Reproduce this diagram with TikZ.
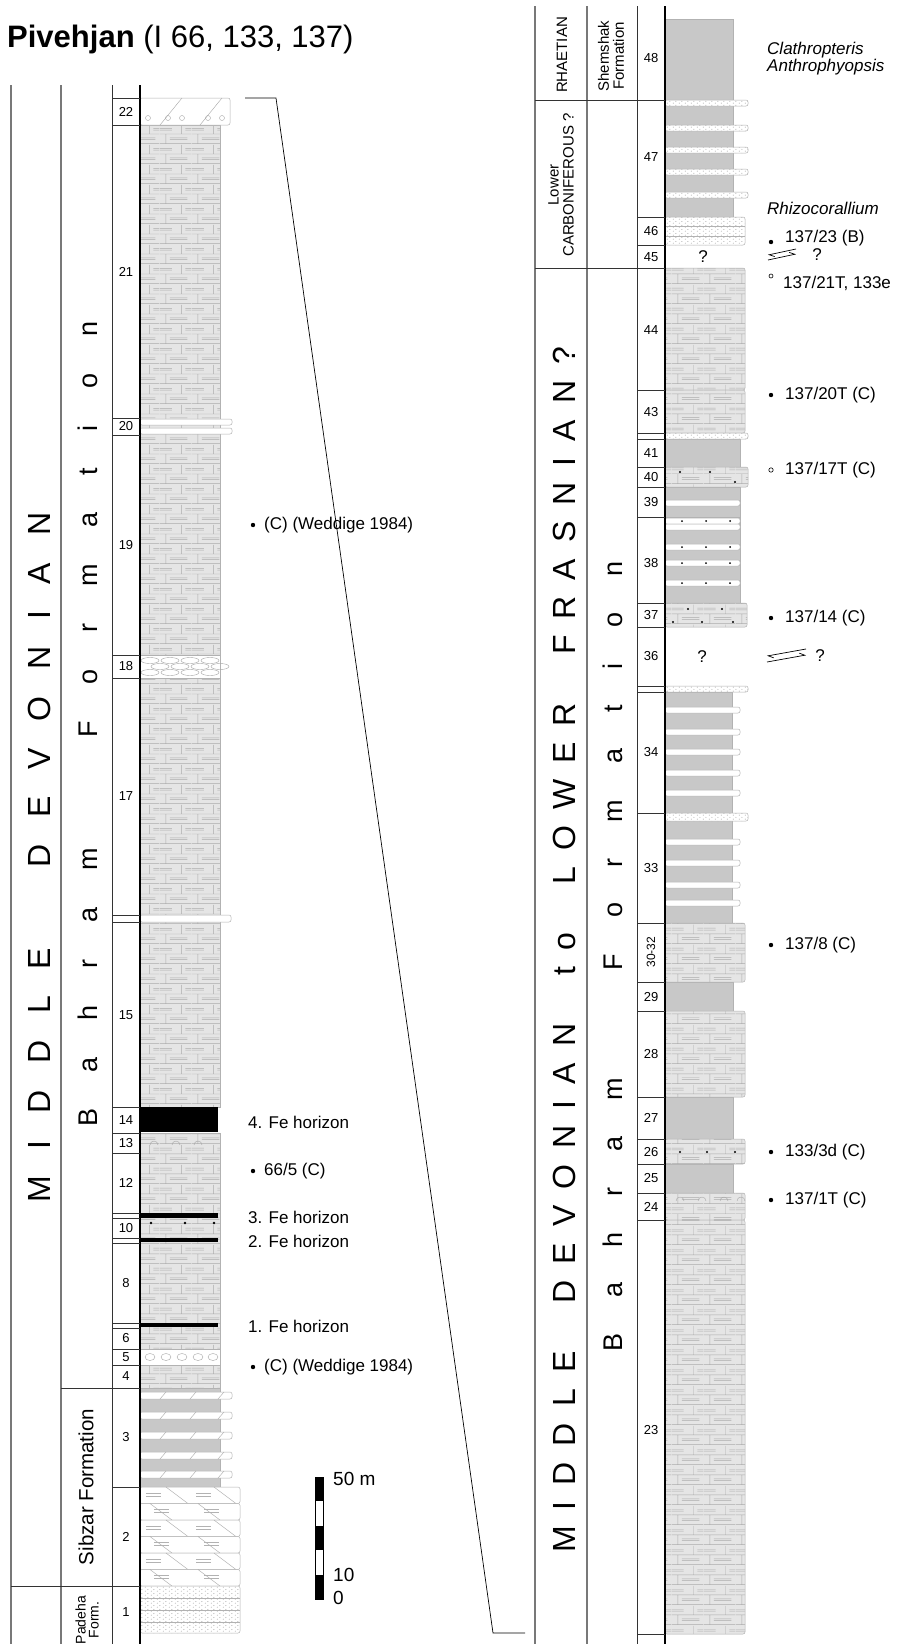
\documentclass[tikz,border=0pt]{standalone}
\usepackage{fontspec}
\setmainfont{Liberation Sans}
\usetikzlibrary{patterns,arrows.meta}
\definecolor{shalegray}{RGB}{200,200,200}
\definecolor{linegray}{RGB}{120,120,120}

\pgfdeclarepatternformonly{limestone}{\pgfpointorigin}{\pgfqpoint{32pt}{20pt}}{\pgfqpoint{32pt}{20pt}}{%
  \pgfsetlinewidth{0.5pt}%
  \pgfpathmoveto{\pgfqpoint{0pt}{0.5pt}}\pgfpathlineto{\pgfqpoint{32pt}{0.5pt}}%
  \pgfpathmoveto{\pgfqpoint{0pt}{10.5pt}}\pgfpathlineto{\pgfqpoint{32pt}{10.5pt}}%
  \pgfpathmoveto{\pgfqpoint{6pt}{0.5pt}}\pgfpathlineto{\pgfqpoint{6pt}{10.5pt}}%
  \pgfpathmoveto{\pgfqpoint{22pt}{10.5pt}}\pgfpathlineto{\pgfqpoint{22pt}{20pt}}%
  \pgfpathmoveto{\pgfqpoint{10pt}{4.5pt}}\pgfpathlineto{\pgfqpoint{28pt}{4.5pt}}%
  \pgfpathmoveto{\pgfqpoint{10pt}{6.5pt}}\pgfpathlineto{\pgfqpoint{28pt}{6.5pt}}%
  \pgfpathmoveto{\pgfqpoint{0pt}{14.5pt}}\pgfpathlineto{\pgfqpoint{12pt}{14.5pt}}%
  \pgfpathmoveto{\pgfqpoint{0pt}{16.5pt}}\pgfpathlineto{\pgfqpoint{12pt}{16.5pt}}%
  \pgfpathmoveto{\pgfqpoint{26pt}{14.5pt}}\pgfpathlineto{\pgfqpoint{32pt}{14.5pt}}%
  \pgfpathmoveto{\pgfqpoint{26pt}{16.5pt}}\pgfpathlineto{\pgfqpoint{32pt}{16.5pt}}%
  \pgfusepath{stroke}}

\pgfdeclarepatternformonly{sand}{\pgfpointorigin}{\pgfqpoint{6pt}{4pt}}{\pgfqpoint{6pt}{4pt}}{%
  \pgfpathcircle{\pgfqpoint{1.5pt}{1pt}}{0.55pt}%
  \pgfpathcircle{\pgfqpoint{4.5pt}{3pt}}{0.55pt}%
  \pgfusepath{fill}}

\begin{document}
\begin{tikzpicture}[x=1pt, y=-1pt, >=Stealth,
    frame/.style={line width=0.9pt, black!80},
    rule/.style={line width=1.4pt, linegray},
    lime/.style={preaction={fill=gray!20}, pattern=limestone, pattern color=gray!65, draw=gray!60, line width=0.5pt},
    shale/.style={fill=shalegray, draw=gray!60, line width=0.4pt},
    layer/.style={fill=white, draw=gray!60, line width=0.5pt, rounded corners=2pt},
    sandy/.style={preaction={fill=white}, pattern=sand, pattern color=gray!75, draw=gray!60, line width=0.5pt, rounded corners=2pt},
    numlab/.style={inner sep=0pt, font=\fontsize{13}{13}\selectfont},
    note/.style={anchor=west, inner sep=0pt, font=\fontsize{17}{17}\selectfont},
    unitlab/.style={rotate=90, inner sep=0pt, align=center, font=\fontsize{15}{15}\selectfont},
    bigcaps/.style={rotate=90, anchor=base west, inner sep=0pt, font=\fontsize{32}{32}\selectfont},
    formtext/.style={rotate=90, anchor=base west, inner sep=0pt, font=\fontsize{27}{27}\selectfont},
    fault/.style={line width=0.7pt, -{Straight Barb[harpoon, length=5pt, width=6pt]}}]
  \useasboundingbox (0,0) rectangle (897,1644);

  % Title
  \node[anchor=base west, inner sep=0pt, font=\fontsize{31}{31}\selectfont] (title) at (7,47)
    {\textbf{Pivehjan} (I 66, 133, 137)};

  % Left section: lithology
  \draw[lime] (140,125) rectangle (220,1107);
  \draw[lime] (140,1133) rectangle (220,1388);
  \draw[layer] (140,98) rectangle (230,125);
  \foreach \x in {160,200}
    \draw[gray!70] (\x,125) -- (\x+22,98);
  \foreach \x in {148,168,182,208,222}
    \draw[gray!70] (\x,118) circle (2.5);
  \draw[layer] (140,419) rectangle (232,425);
  \draw[layer] (140,428) rectangle (232,434);
  \draw[fill=white, draw=gray!60] (140,655) rectangle (220,678);
  \foreach \yy/\off in {660.5/0, 666.5/10, 672.5/0}
    \foreach \k in {0,1,2,3}
      \draw[gray!70] ({150+\off+\k*20},\yy) ellipse (9 and 3);
  \draw[layer] (140,915) rectangle (231,922);
  \fill (140,1107) rectangle (218,1132);
  \foreach \x in {150,172,194}
    \draw[gray!70] (\x,1145) arc (180:360:4);
  \fill (140,1213) rectangle (218,1217.5);
  \foreach \x in {151,185,214}
    \fill (\x,1223) circle (1.3);
  \fill (140,1238) rectangle (218,1242);
  \fill (140,1322.5) rectangle (218,1327);
  \draw[fill=white, draw=gray!60] (140,1349) rectangle (220,1365);
  \foreach \x in {150,166,182,198,213}
    \draw[gray!70] (\x,1357) ellipse (5 and 3.5);
  \draw[shale] (140,1388) rectangle (220,1487);
  \foreach \y in {1392,1412,1432,1452,1471}{
    \draw[layer] (140,\y) rectangle (232,\y+7);
    \foreach \x in {160,190,218}
      \draw[gray!70] (\x,\y+7) -- (\x+6,\y);
  }
  \foreach \y/\off in {1487/0,1503.5/-16,1520/0,1536.5/-16,1553/0,1569.5/-16}{
    \draw[layer] (140,\y) rectangle (240,\y+16.5);
    \foreach \x in {166,214}
      \draw[gray!70] (\x+\off,\y) -- (\x+\off+22,\y+16.5);
    \foreach \x in {146,196}{
      \draw[gray!60] (\x-\off*0.5,\y+6) -- +(15,0);
      \draw[gray!60] (\x-\off*0.5,\y+9) -- +(15,0);
    }
  }
  \draw[sandy] (140,1586) rectangle (240,1633);
  \foreach \y in {1598,1610,1622}
    \draw[gray!60] (140,\y) -- (240,\y);

  % Left section: frame and bed numbers
  \foreach \x in {11,61}
    \draw[rule] (\x,85) -- (\x,1644);
  \draw[frame] (112,85) -- (112,1644);
  \draw[line width=1.3pt] (140,85) -- (140,1644);
  \draw[frame] (61,1388) -- (112,1388);
  \draw[frame] (11,1586) -- (112,1586);
  \foreach \y in {98,125,418,435,655,678,915,922,1107,1133,1153,1213,1218,1238,1243,1323,1328,1349,1365,1388,1487,1586}
    \draw[frame] (112,\y) -- (140,\y);
  \foreach \n/\y in {22/111.5,21/271.5,20/426.5,19/545,18/666.5,17/796.5,15/1015,14/1120,13/1143,12/1183,
                     10/1228,8/1283,6/1338.5,5/1357,4/1376.5,3/1437.5,2/1536.5,1/1612}
    \node[numlab] (L\n) at (126,\y) {\n};

  % Left section: units
  \node[bigcaps] (ageL) at (50,1203)
    {\makebox[690pt]{M\hfill I\hfill D\hfill D\hfill L\hfill E\hfill\hfill\hfill D\hfill E\hfill V\hfill O\hfill N\hfill I\hfill A\hfill N}};
  \node[formtext] (bahramL) at (97,1127)
    {\makebox[805pt]{B\hfill a\hfill h\hfill r\hfill a\hfill m\hfill\hfill\hfill F\hfill o\hfill r\hfill m\hfill a\hfill t\hfill i\hfill o\hfill n}};
  \node[rotate=90, inner sep=0pt, font=\fontsize{20.5}{20.5}\selectfont] (sibzar) at (86,1487) {Sibzar Formation};
  \node[rotate=90, inner sep=0pt, align=center, font=\fontsize{14}{13}\selectfont] (padeha) at (87,1620) {Padeha\\Form.};

  % Left section: notes
  \node[note] (wedA) at (264,525) {(C) (Weddige 1984)};
  \node[note] (fe4) at (248,1122) {4. Fe horizon};
  \node[note] (s665) at (264,1171) {66/5 (C)};
  \node[note] (fe3) at (248,1217) {3. Fe horizon};
  \node[note] (fe2) at (248,1241) {2. Fe horizon};
  \node[note] (fe1) at (248,1326) {1. Fe horizon};
  \node[note] (wedB) at (264,1367) {(C) (Weddige 1984)};
  \foreach \y in {525,1171,1367}
    \fill (253,\y) circle (2.2);

  % Scale bar
  \draw[line width=0.5pt] (315,1477) rectangle (323,1599);
  \foreach \ya/\yb in {1477/1501.4,1526/1550.2,1575/1599}
    \fill (315,\ya) rectangle (323,\yb);
  \node[anchor=west, inner sep=0pt, font=\fontsize{19}{19}\selectfont] (sc50) at (333,1479) {50 m};
  \node[anchor=west, inner sep=0pt, font=\fontsize{19}{19}\selectfont] (sc10) at (333,1575) {10};
  \node[anchor=west, inner sep=0pt, font=\fontsize{19}{19}\selectfont] (sc0) at (333,1598) {0};

  % Correlation line
  \coordinate (corrA) at (245,98);
  \coordinate (corrB) at (276,98);
  \coordinate (corrC) at (493,1633);
  \coordinate (corrD) at (525,1633);
  \draw[line width=0.7pt] (corrA) -- (corrB) -- (corrC) -- (corrD);

  % Right section: lithology
  \foreach \ya/\yb/\w in {19/100/733,100/217/733,439/467/740,487/517/740,517/603/740,692/813/732,
                          813/923/732,982/1011/733,1097/1139/733,1164/1193/733}
    \draw[shale] (665,\ya) rectangle (\w,\yb);
  \foreach \ya/\yb/\w in {268/390/745,390/433/745,467/487/748,603/627/747,923/982/745,1011/1097/745,
                          1139/1164/745,1193/1220/745,1220/1634/745}
    \draw[lime, rounded corners=2pt] (665,\ya) rectangle (\w,\yb);
  \foreach \ya/\yb/\w in {100/106/748,125/131/748,147/153/748,169/175/748,192/198/748,217/245/745,
                          433/439/748,686/692/748,813/821/748}
    \draw[sandy] (665,\ya) rectangle (\w,\yb);
  \foreach \y in {226.5,236}
    \draw[gray!60] (665,\y) -- (745,\y);
  \foreach \y in {500,518,524,544,560,580,707,729,749,770,790,839,860,882,900}
    \draw[layer] (665,\y) rectangle (740,\y+6);
  \foreach \y in {521,547,563,583}
    \foreach \x in {682,706,730}
      \fill (\x,\y) circle (1);
  \foreach \x/\y in {680/472,710/472,735/482,688/609,722/609,673/622,702/622,733/622,680/1152,707/1152,735/1152}
    \fill (\x,\y) circle (1.2);
  \foreach \x in {676,698,720,737}
    \draw[gray!70] (\x,1201) arc (180:360:4);

  % Right section: frame and bed numbers
  \foreach \x in {535,587}
    \draw[rule] (\x,6) -- (\x,1644);
  \draw[frame] (637,6) -- (637,1644);
  \draw[line width=1.3pt] (665,6) -- (665,1644);
  \draw[frame] (535,100) -- (637,100);
  \draw[frame] (535,268) -- (637,268);
  \foreach \y in {100,217,245,268,390,433,439,467,487,517,603,627,686,692,813,923,982,1011,1097,1139,1164,1193,1220,1634}
    \draw[frame] (637,\y) -- (665,\y);
  \foreach \n/\y in {48/58,47/157,46/231,45/257,44/330,43/412,41/453,40/477,39/502,38/563,37/615,36/656,
                     34/752,33/868,29/997,28/1054,27/1118,26/1152,25/1178,24/1207,23/1430}
    \node[numlab] (R\n) at (651,\y) {\n};
  \node[numlab, rotate=90, font=\fontsize{12}{12}\selectfont] (R30) at (651,952) {30-32};
  \node[inner sep=0pt, font=\fontsize{17}{17}\selectfont] (gap45) at (703,257) {?};
  \node[inner sep=0pt, font=\fontsize{17}{17}\selectfont] (gap36) at (702,657) {?};

  % Right section: units
  \node[unitlab] (rhaetian) at (562,55) {RHAETIAN};
  \node[unitlab] (shemshak) at (611,56) {Shemshak\\Formation};
  \node[unitlab] (carbon) at (561,185) {Lower\\CARBONIFEROUS ?};
  \node[bigcaps] (ageR) at (575,1553)
    {\makebox[1206pt]{M\hfill I\hfill D\hfill D\hfill L\hfill E\hfill\hfill\hfill D\hfill E\hfill V\hfill O\hfill N\hfill I\hfill A\hfill N\hfill\hfill\hfill
     t\hfill o\hfill\hfill\hfill L\hfill O\hfill W\hfill E\hfill R\hfill\hfill\hfill F\hfill R\hfill A\hfill S\hfill N\hfill I\hfill A\hfill N\hfill ?}};
  \node[formtext] (bahramR) at (622,1352)
    {\makebox[790pt]{B\hfill a\hfill h\hfill r\hfill a\hfill m\hfill\hfill\hfill F\hfill o\hfill r\hfill m\hfill a\hfill t\hfill i\hfill o\hfill n}};

  % Right section: notes
  \node[note, font=\fontsize{17}{16}\itshape] (clath) at (767,50) {Clathropteris};
  \node[note, font=\fontsize{17}{16}\itshape] (anthro) at (767,67) {Anthrophyopsis};
  \node[note, font=\fontsize{17}{16}\itshape] (rhizo) at (767,208) {Rhizocorallium};
  \node[note] (s13723) at (785,238) {137/23 (B)};
  \node[note] (s13721) at (783,283) {137/21T, 133e};
  \node[note] (s13720) at (785,395) {137/20T (C)};
  \node[note] (s13717) at (785,470) {137/17T (C)};
  \node[note] (s13714) at (785,618) {137/14 (C)};
  \node[note] (s1378) at (785,945) {137/8 (C)};
  \node[note] (s1333) at (785,1152) {133/3d (C)};
  \node[note] (s1371) at (785,1200) {137/1T (C)};
  \foreach \y in {242,395,618,945,1152,1200}
    \fill (771,\y) circle (2.2);
  \draw[line width=0.6pt] (771,276) circle (2);
  \draw[line width=0.6pt] (771,470) circle (2.2);
  \node[inner sep=0pt, font=\fontsize{17}{17}\selectfont] (faultA) at (817,255) {?};
  \node[inner sep=0pt, font=\fontsize{17}{17}\selectfont] (faultB) at (820,656) {?};
  \draw[fault] (796,249) -- (768,255);
  \draw[fault] (768,260) -- (796,254);
  \draw[fault] (806,649) -- (767,656);
  \draw[fault] (767,662) -- (806,655);
\end{tikzpicture}
\end{document}
